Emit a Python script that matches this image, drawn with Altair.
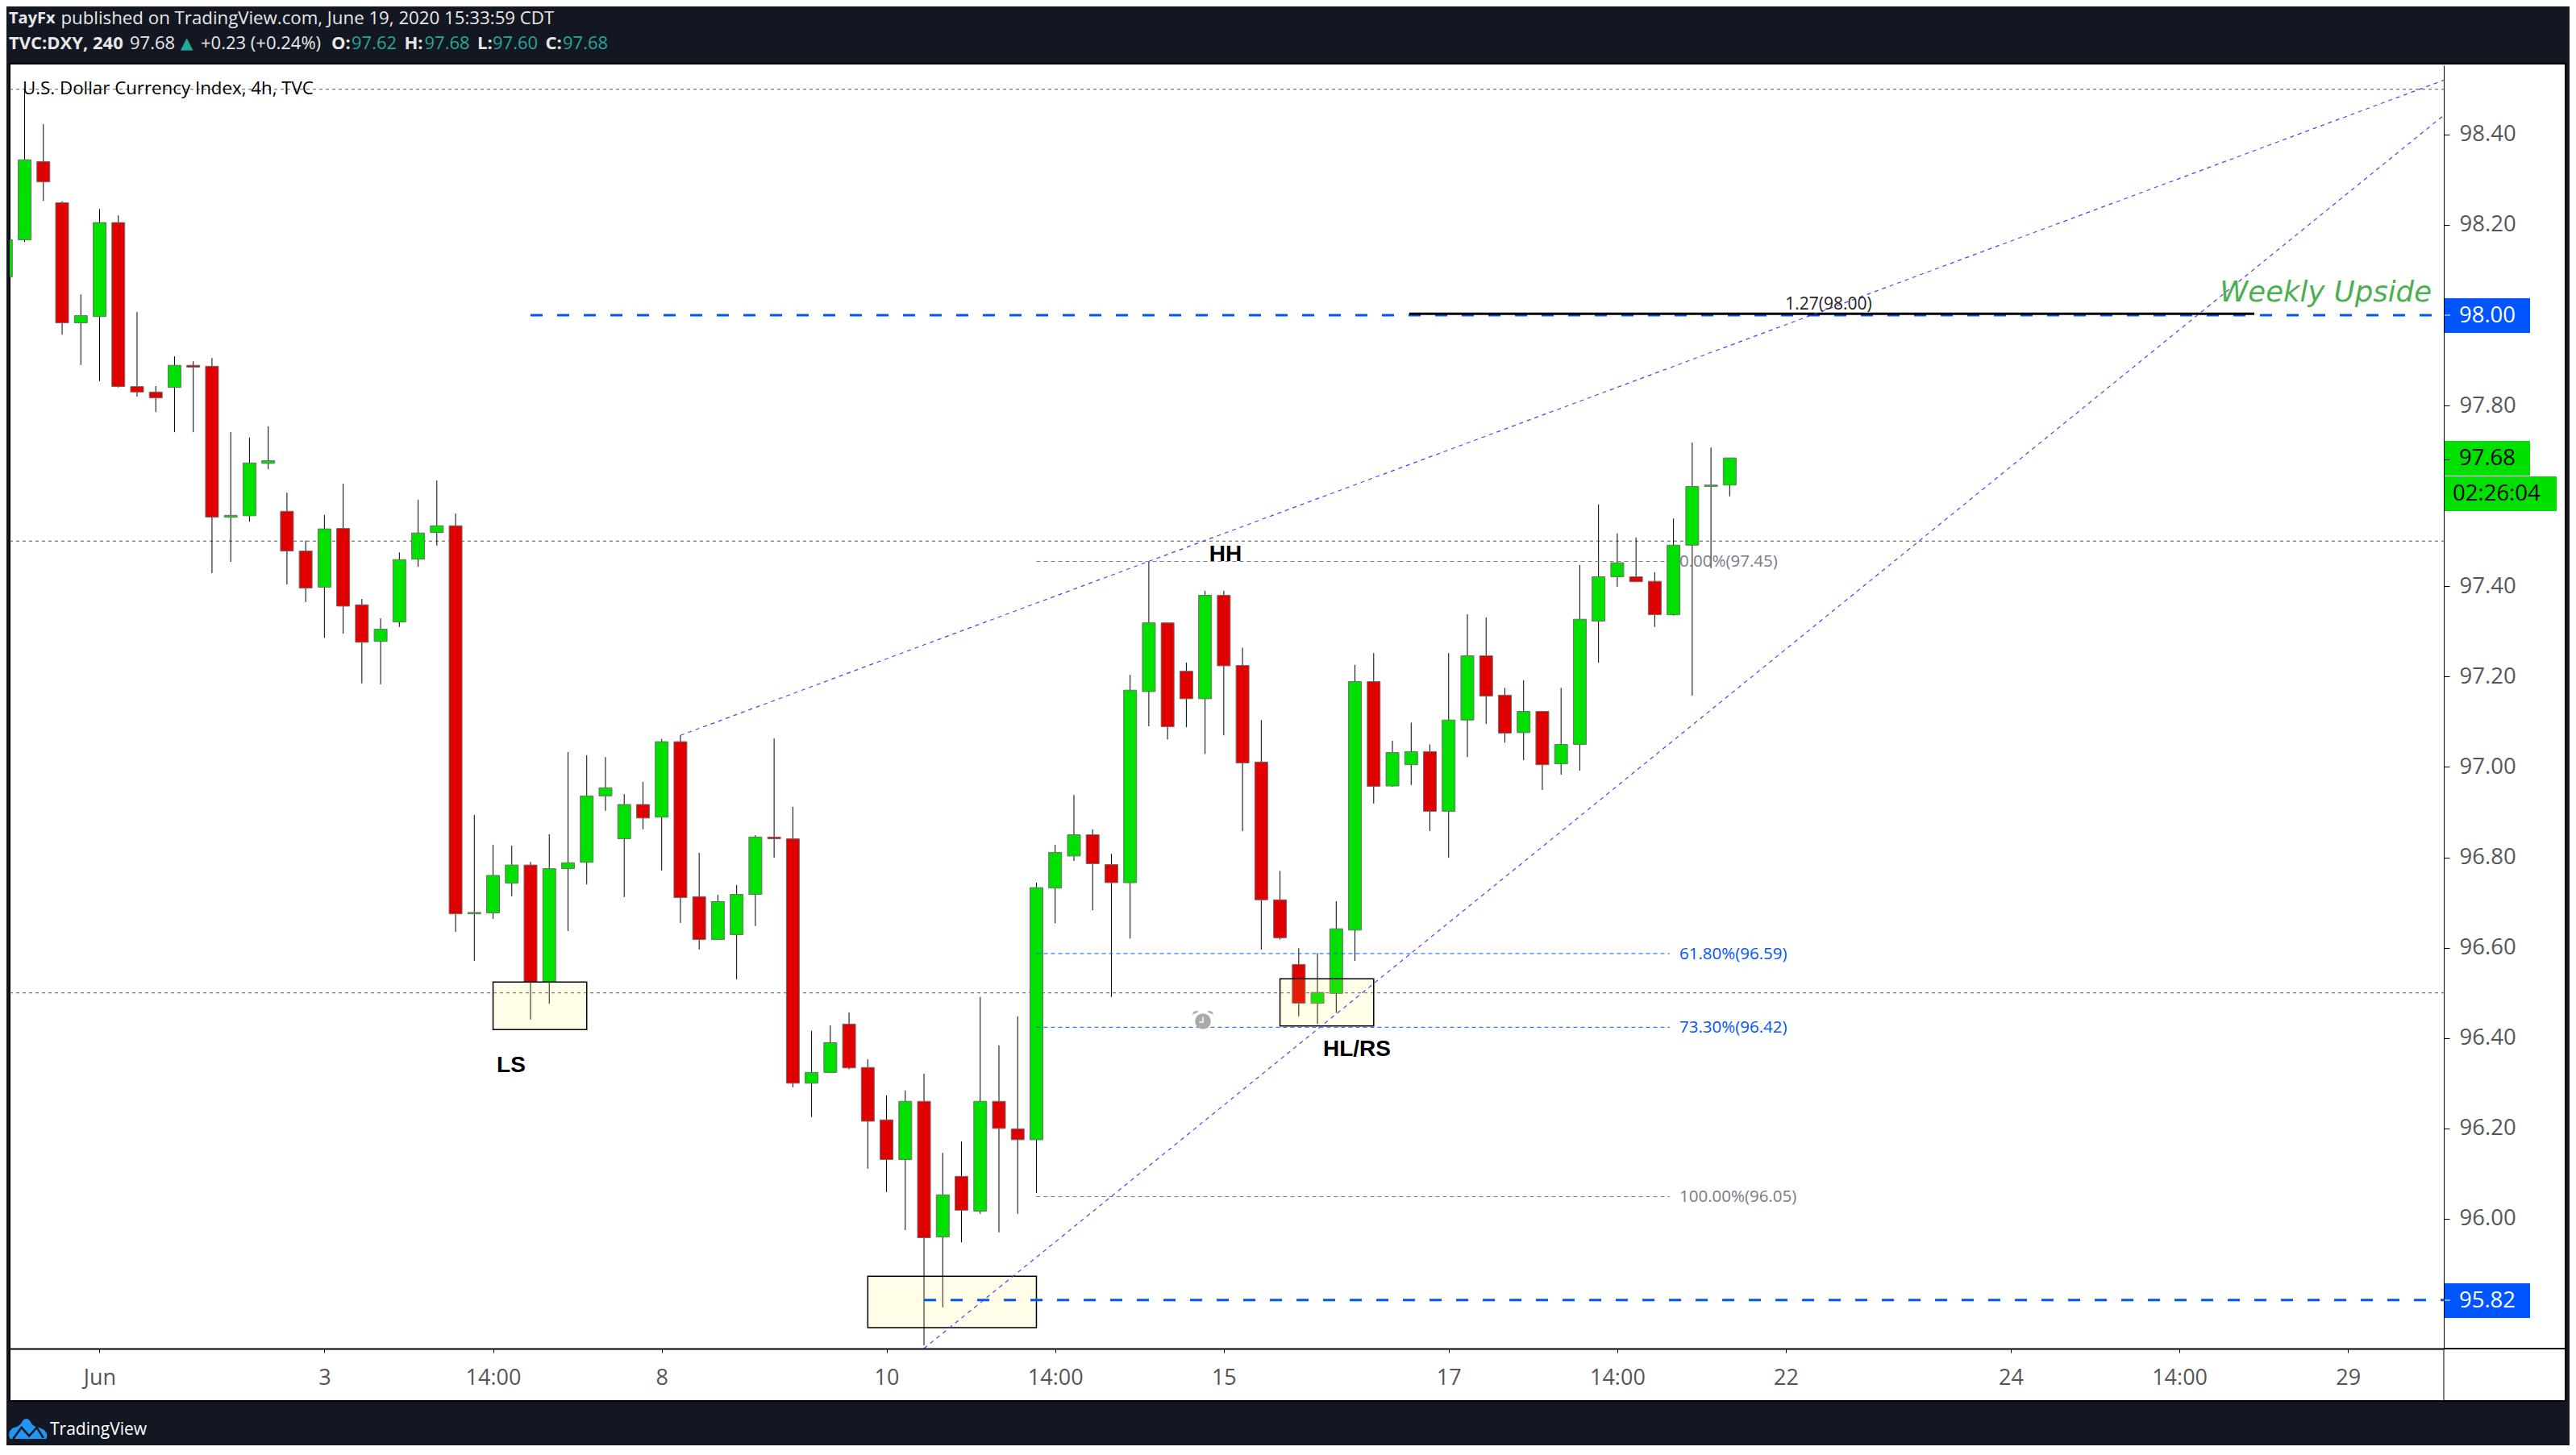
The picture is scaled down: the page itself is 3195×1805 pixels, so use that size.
import altair as alt
import pandas as pd

# ---------- values ----------
open_ = [98.085,98.167,98.340,98.249,97.983,97.997,98.205,97.842,97.830,97.840,97.889,97.887,97.553,97.556,97.672,97.566,97.478,97.398,97.528,97.359,97.278,97.321,97.460,97.519,97.534,96.675,96.677,96.743,96.783,96.524,96.775,96.789,96.936,96.841,96.917,96.889,97.056,96.713,96.618,96.629,96.718,96.845,96.841,96.300,96.324,96.431,96.335,96.219,96.131,96.260,95.960,96.094,96.017,96.260,96.199,96.175,96.732,96.803,96.850,96.784,96.744,97.167,97.319,97.212,97.151,97.380,97.225,97.011,96.706,96.563,96.477,96.499,96.639,97.189,96.958,97.005,97.034,96.902,97.104,97.246,97.159,97.076,97.123,97.007,97.050,97.323,97.421,97.421,97.411,97.337,97.491,97.621,97.624]
high = [98.167,98.50,98.423,98.252,98.046,98.235,98.221,98.007,97.843,97.909,97.898,97.905,97.741,97.729,97.754,97.607,97.501,97.558,97.627,97.372,97.329,97.475,97.591,97.634,97.561,96.894,96.828,96.826,96.790,96.851,97.033,97.026,97.022,96.940,96.967,97.062,97.070,96.810,96.717,96.739,96.849,97.063,96.912,96.416,96.428,96.457,96.353,96.273,96.284,96.321,96.146,96.171,96.491,96.384,96.448,96.744,96.828,96.938,96.862,96.808,97.204,97.455,97.319,97.231,97.390,97.390,97.264,97.104,96.770,96.599,96.588,96.703,97.226,97.252,97.058,97.098,97.050,97.252,97.338,97.331,97.175,97.192,97.123,97.175,97.447,97.581,97.517,97.508,97.431,97.550,97.718,97.707,97.684]
low = [98.085,98.162,98.253,97.957,97.890,97.854,97.840,97.820,97.786,97.741,97.741,97.429,97.454,97.543,97.659,97.404,97.365,97.286,97.295,97.185,97.183,97.310,97.443,97.490,96.635,96.571,96.664,96.714,96.441,96.476,96.637,96.740,96.903,96.712,96.862,96.771,96.655,96.596,96.618,96.530,96.648,96.799,96.291,96.225,96.324,96.331,96.111,96.059,95.975,95.720,95.804,95.948,96.011,95.970,96.011,96.057,96.654,96.792,96.683,96.491,96.620,97.090,97.061,97.088,97.029,97.070,96.858,96.596,96.618,96.448,96.431,96.456,96.571,96.919,96.956,96.960,96.858,96.799,97.022,97.095,97.054,97.015,96.949,96.983,96.992,97.231,97.399,97.410,97.310,97.335,97.158,97.440,97.599]
close = [98.167,98.344,98.295,97.983,97.999,98.205,97.842,97.830,97.817,97.889,97.885,97.553,97.557,97.673,97.678,97.478,97.396,97.527,97.356,97.276,97.305,97.459,97.518,97.534,96.675,96.678,96.760,96.783,96.524,96.775,96.788,96.936,96.954,96.917,96.887,97.056,96.711,96.618,96.702,96.718,96.845,96.841,96.300,96.324,96.390,96.334,96.216,96.131,96.260,95.958,96.053,96.019,96.260,96.200,96.175,96.733,96.811,96.850,96.786,96.744,97.170,97.319,97.089,97.151,97.380,97.224,97.009,96.706,96.622,96.477,96.501,96.642,97.189,96.957,97.032,97.034,96.902,97.104,97.246,97.157,97.075,97.123,97.005,97.050,97.327,97.421,97.452,97.410,97.337,97.491,97.621,97.624,97.684]

x_ticks = [5,17,26,35,47,56,65,77,86,95,107,116,125]
x_labels = ["Jun","3","14:00","8","10","14:00","15","17","14:00","22","24","14:00","29"]
y_ticks = [96.0,96.2,96.4,96.6,96.8,97.0,97.2,97.4,97.68,97.8,98.2,98.4]

level_x0 = 0.2022
level_x1 = 130.11
grey_levels = [98.50, 97.50, 96.50]
fib_levels = [97.455, 96.587, 96.424, 96.049]
fib_colors = ["#787b86", "#0055ff", "#0055ff", "#787b86"]
fib_from, fib_to = 55, 88.8
thick_blue = [(28, 98.00), (49, 95.82)]
black_line = (74.9, 120.0, 98.003)
trend_a = [(36, 97.07), (130.11, 98.52)]
trend_b = [(49, 95.713), (130.11, 98.4425)]
zones = [(26, 31, 96.524, 96.419), (46, 55, 95.873, 95.759), (68, 73, 96.531, 96.427)]

BG = "#131722"
GREEN = "#00e000"
RED = "#e00000"
BLUE = "#0055ff"
TEAL = "#26a69a"
FONT = "Open Sans"
PW, PH = 3019, 1592
L, T = 12, 81

xs = alt.Scale(domain=[level_x0, level_x1], nice=False, zero=False, padding=0)
ys = alt.Scale(domain=[95.7127, 98.5531], nice=False, zero=False, padding=0)
lab = "".join(f"datum.value=={t}?'{s}':" for t, s in zip(x_ticks, x_labels)) + "''"
x_axis = alt.Axis(values=x_ticks, labelExpr=lab, grid=False, orient="bottom", tickSize=5, labelPadding=18,
                  labelFont=FONT, labelFontSize=27, labelColor="#555555", domainColor="black", tickColor="black",
                  domainWidth=2, labelOverlap=False, labelFlush=False, zindex=1, title=None)
y_axis = alt.Axis(values=y_ticks, labelExpr="abs(datum.value-97.68)<0.001?'':format(datum.value,'.2f')",
                  grid=False, orient="right", tickSize=7, labelPadding=12, labelFont=FONT, labelFontSize=27.5,
                  labelColor="#555555", domainColor="black", tickColor="black", labelOverlap=False,
                  labelFlush=False, zindex=1, title=None)
X = lambda f: alt.X(f, type="quantitative", scale=xs, axis=x_axis)
Y = lambda f: alt.Y(f, type="quantitative", scale=ys, axis=y_axis)
one = pd.DataFrame({"k": [0]})


def txt(s, px, py, size=22, color="black", align="left", weight="normal", style="normal",
        font=FONT, baseline="middle"):
    return alt.Chart(one).mark_text(align=align, baseline=baseline, fontSize=size, color=color,
                                    fontWeight=weight, fontStyle=style, font=font).encode(
        x=alt.value(px - L), y=alt.value(py - T), text=alt.value(s))


def box(x0, x1, y0, y1, fill, **kw):
    return alt.Chart(one).mark_rect(color=fill, **kw).encode(
        x=alt.value(x0 - L), x2=alt.value(x1 - L), y=alt.value(y0 - T), y2=alt.value(y1 - T))


def hrule(x0, x1, y, color="black", w=1):
    return alt.Chart(one).mark_rule(color=color, strokeWidth=w).encode(
        x=alt.value(x0 - L), x2=alt.value(x1 - L), y=alt.value(y - T))


def vrule(x, y0, y1, color="black", w=1):
    return alt.Chart(one).mark_rule(color=color, strokeWidth=w).encode(
        x=alt.value(x - L), y=alt.value(y0 - T), y2=alt.value(y1 - T))


def sym(path, px, py, d, color, filled=True, w=0):
    return alt.Chart(one).mark_point(shape=path, size=d * d, filled=filled, color=color, opacity=1,
                                     strokeWidth=w).encode(x=alt.value(px - L), y=alt.value(py - T))


df = pd.DataFrame({"i": range(len(open_)), "o": open_, "h": high, "l": low, "c": close})
df["dir"] = ["up" if c >= o else "down" for o, c in zip(open_, close)]

layers = []
layers.append(box(12, 3182, 79, 1738, "white", stroke="black", strokeWidth=2))
layers.append(vrule(3031, 1673, 1738))
layers.append(hrule(3031, 3182, 1673, w=2))

grey_df = pd.DataFrame({"y": grey_levels, "a": level_x0, "b": level_x1})
layers.append(alt.Chart(grey_df).mark_rule(color="#555555", strokeWidth=1, strokeDash=[4, 4]).encode(
    x=X("a"), x2="b", y=Y("y")))

wicks = alt.Chart(df).mark_rule(color="black", strokeWidth=1, clip=True).encode(x=X("i"), y=Y("l"), y2="h")
bodies = alt.Chart(df).mark_bar(size=16, stroke="#6e6e6e", strokeWidth=1, clip=True).encode(
    x=X("i"), y=Y("o"), y2="c",
    color=alt.Color("dir:N", scale=alt.Scale(domain=["up", "down"], range=[GREEN, RED]), legend=None))
layers += [wicks, bodies]

zone_df = pd.DataFrame(zones, columns=["a", "b", "t", "u"])
layers.append(alt.Chart(zone_df).mark_rect(fill="#ffeb3b", fillOpacity=0.12, stroke="black", strokeWidth=1.5).encode(
    x=X("a"), x2="b", y=Y("t"), y2="u"))

fib_df = pd.DataFrame({"y": fib_levels, "col": fib_colors, "a": fib_from, "b": fib_to})
layers.append(alt.Chart(fib_df).mark_rule(strokeWidth=1, strokeDash=[5, 4]).encode(
    x=X("a"), x2="b", y=Y("y"), color=alt.Color("col:N", scale=None)))

for a, v in thick_blue:
    d = pd.DataFrame({"a": [a], "b": [level_x1], "y": [v]})
    layers.append(alt.Chart(d).mark_rule(color=BLUE, strokeWidth=3, strokeDash=[15, 18]).encode(
        x=X("a"), x2="b", y=Y("y")))

d = pd.DataFrame({"a": [black_line[0]], "b": [black_line[1]], "y": [black_line[2]]})
layers.append(alt.Chart(d).mark_rule(color="black", strokeWidth=3).encode(x=X("a"), x2="b", y=Y("y")))

for tr in (trend_a, trend_b):
    d = pd.DataFrame(tr, columns=["x", "y"])
    layers.append(alt.Chart(d).mark_line(color="#5b3bf5", strokeWidth=1.2, strokeDash=[5, 5]).encode(
        x=X("x"), y=Y("y")))

# price scale tags
layers.append(box(3032, 3138, 370, 413, BLUE))
layers.append(txt("98.00", 3085, 391.5, 27.5, "white", "center"))
layers.append(box(3032, 3138, 547, 590, GREEN))
layers.append(txt("97.68", 3085, 568.5, 27.5, "black", "center"))
layers.append(box(3032, 3171, 591, 634, GREEN))
layers.append(txt("02:26:04", 3042, 612.5, 27.5, "black"))
layers.append(box(3032, 3138, 1592, 1635, BLUE))
layers.append(txt("95.82", 3085, 1613.5, 27.5, "white", "center"))
layers.append(hrule(3032, 3039, 391, "white"))
layers.append(hrule(3032, 3039, 1613, "white"))

# annotations
layers.append(txt("U.S. Dollar Currency Index, 4h, TVC", 28, 110, 22.3))
layers.append(txt("LS", 634, 1322, 28, "black", "center", "bold", font="Liberation Sans"))
layers.append(txt("HH", 1520, 688, 28, "black", "center", "bold", font="Liberation Sans"))
layers.append(txt("HL/RS", 1683, 1302, 28, "black", "center", "bold", font="Liberation Sans"))
layers.append(txt("Weekly Upside", 3016, 374, 35.5, "#4caf50", "right", style="italic", font="DejaVu Sans",
                  baseline="alphabetic"))
layers.append(txt("1.27(98.00)", 2268, 378, 21, "#222222", "center"))
layers.append(txt("0.00%(97.45)", 2083, 697, 20.5, "#787b86"))
layers.append(txt("61.80%(96.59)", 2083, 1184, 20.5, BLUE))
layers.append(txt("73.30%(96.42)", 2083, 1275, 20.5, BLUE))
layers.append(txt("100.00%(96.05)", 2083, 1485, 20.5, "#787b86"))

# alarm icon
layers.append(alt.Chart(one).mark_point(shape="circle", size=380, filled=True, color="#aaaaaa", opacity=1).encode(
    x=alt.value(1492 - L), y=alt.value(1267 - T)))
layers.append(sym("M-1,-0.55 C-0.95,-0.95 -0.55,-1 -0.4,-0.85 Z M1,-0.55 C0.95,-0.95 0.55,-1 0.4,-0.85 Z",
                  1492, 1266, 26, "#aaaaaa"))
layers.append(sym("M0,-0.6 L0,0.1 L-0.5,0.1", 1492, 1267, 18, "white", filled=False, w=1.5))

# header
W = "#e8e8e8"
layers.append(txt("TayFx", 11, 23, 20, W, weight="bold"))
layers.append(txt("published on TradingView.com, June 19, 2020 15:33:59 CDT", 75.5, 23, 22.25, W))
layers.append(txt("TVC:DXY, 240", 11, 54, 22, W, weight="bold"))
layers.append(txt("97.68", 161, 54, 22, W))
layers.append(txt("▲", 224, 54, 20, TEAL, font="DejaVu Sans"))
layers.append(txt("+0.23 (+0.24%)", 249, 54, 22, W))
for key, kx, val, vx in [("O:", 411, "97.62", 436), ("H:", 501.5, "97.68", 526.5),
                         ("L:", 592, "97.60", 611), ("C:", 676.5, "97.68", 698)]:
    layers.append(txt(key, kx, 54, 22, W, weight="bold"))
    layers.append(txt(val, vx, 54, 22, TEAL))

# footer logo
layers.append(sym("M-0.95,0.55 C-1.1,0.25 -0.95,0 -0.7,-0.05 C-0.55,-0.1 -0.45,-0.15 -0.35,-0.3 "
                  "C-0.25,-0.55 0,-0.6 0.12,-0.35 C0.2,-0.2 0.3,-0.1 0.5,-0.05 C0.85,0.02 1.1,0.25 0.95,0.55 Z",
                  35, 1772, 47, "#2196f3"))
layers.append(sym("M-0.8,0.55 L-0.35,-0.05 L0.05,0.4 L0.45,-0.05 L0.8,0.5", 35, 1772, 47, BG, filled=False, w=2.5))
layers.append(txt("TradingView", 62, 1774, 21, "white"))

chart = alt.layer(*layers).properties(
    width=PW, height=PH, background=BG,
    padding={"left": 4, "top": 73, "right": 156, "bottom": 120},
    autosize=alt.AutoSizeParams(type="none"),
).configure_view(stroke=None)

chart.save("out.html", embed_options={"renderer": "svg", "actions": False})
